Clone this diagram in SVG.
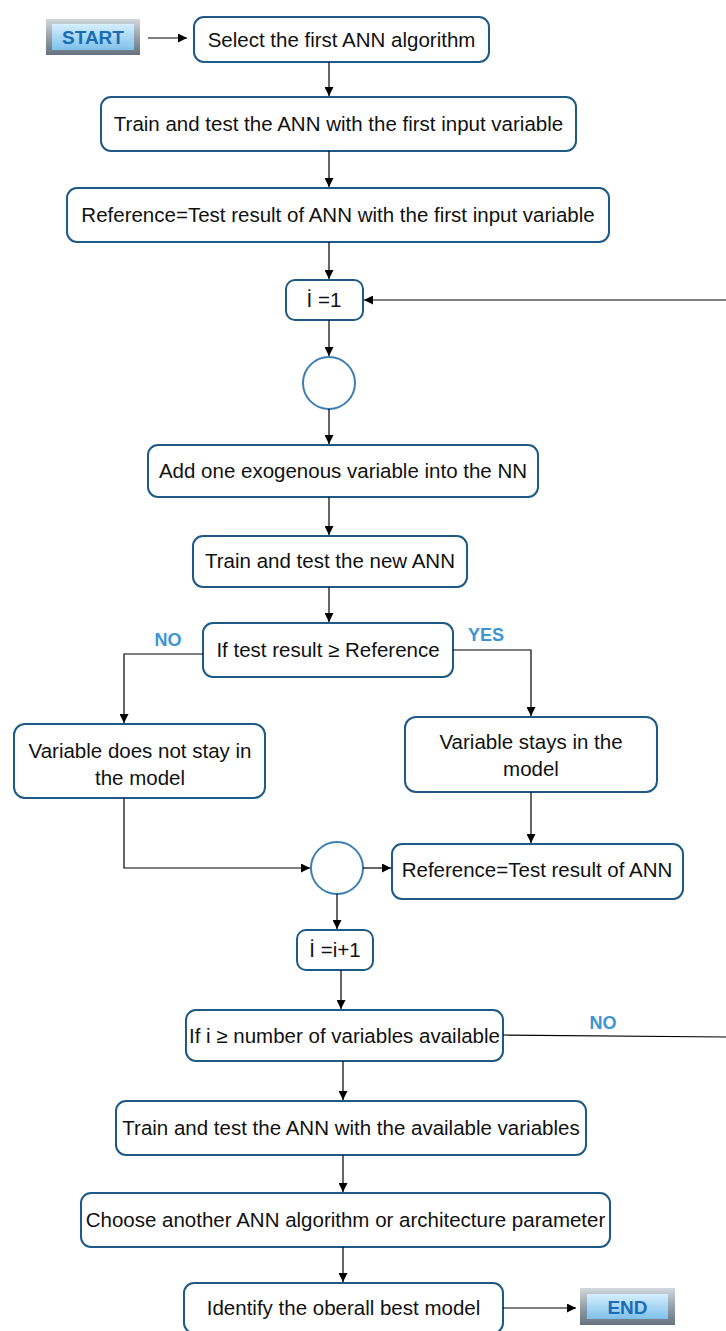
<svg xmlns="http://www.w3.org/2000/svg" width="726" height="1331" viewBox="0 0 726 1331">
<defs>
<marker id="arr" viewBox="0 0 10 10" refX="10" refY="5" markerWidth="9" markerHeight="9" markerUnits="userSpaceOnUse" orient="auto"><path d="M0,0 L10,5 L0,10 z" fill="#000"/></marker>
<linearGradient id="btnIn" x1="0" y1="0" x2="0" y2="1"><stop offset="0" stop-color="#d6efff"/><stop offset="0.5" stop-color="#a9d8f5"/><stop offset="1" stop-color="#7fc0ea"/></linearGradient>
<linearGradient id="btnOut" x1="0" y1="0" x2="0" y2="1"><stop offset="0" stop-color="#d2d8dd"/><stop offset="0.5" stop-color="#95a1ab"/><stop offset="1" stop-color="#66737f"/></linearGradient>
</defs>
<style>
.box{fill:#fff;stroke:#1d5a85;stroke-width:2}
.circ{fill:#fff;stroke:#3b7eb3;stroke-width:2}
.t{font-family:"Liberation Sans",Arial,sans-serif;font-size:20.5px;fill:#111;text-anchor:middle}
.lbl{font-family:"Liberation Sans",Arial,sans-serif;font-size:18px;font-weight:bold;fill:#3d95d4;text-anchor:middle}
.btn{font-family:"Liberation Sans",Arial,sans-serif;font-size:19px;font-weight:bold;fill:#1a6cb5;text-anchor:middle}
.c{fill:none;stroke:#000;stroke-width:1.2}
.ca{fill:none;stroke:#000;stroke-width:1.2;marker-end:url(#arr)}
</style>
<rect width="726" height="1331" fill="#fff"/>

<g id="start">
<rect x="46" y="19" width="94" height="36" fill="url(#btnOut)"/>
<rect x="52" y="24" width="82" height="26" fill="url(#btnIn)"/>
<text class="btn" x="93" y="44">START</text>
</g>
<g id="n1"><rect class="box" x="194" y="17" width="295" height="45" rx="10"/><text class="t" x="341.5" y="47">Select the first ANN algorithm</text></g>
<g id="n2"><rect class="box" x="101" y="97" width="475" height="54" rx="10"/><text class="t" x="338.5" y="131">Train and test the ANN with the first input variable</text></g>
<g id="n3"><rect class="box" x="67" y="188" width="542" height="54" rx="10"/><text class="t" x="338" y="222">Reference=Test result of ANN with the first input variable</text></g>
<g id="n4"><rect class="box" x="286" y="280" width="77" height="40" rx="9"/><text class="t" x="324" y="307">İ =1</text></g>
<g id="c1"><circle class="circ" cx="329" cy="383" r="26"/></g>
<g id="n5"><rect class="box" x="148" y="445" width="390" height="52" rx="10"/><text class="t" x="343" y="478">Add one exogenous variable into the NN</text></g>
<g id="n6"><rect class="box" x="193" y="536" width="274" height="51" rx="10"/><text class="t" x="330" y="568">Train and test the new ANN</text></g>
<g id="n7"><rect class="box" x="203" y="623" width="250" height="54" rx="10"/><text class="t" x="328" y="657">If test result ≥ Reference</text></g>
<g id="n8"><rect class="box" x="14" y="724" width="251" height="74" rx="11"/><text class="t" x="140" y="758">Variable does not stay in</text><text class="t" x="140" y="785">the model</text></g>
<g id="n9"><rect class="box" x="405" y="717" width="252" height="75" rx="11"/><text class="t" x="531" y="749">Variable stays in the</text><text class="t" x="531" y="776">model</text></g>
<g id="c2"><circle class="circ" cx="337" cy="868" r="26"/></g>
<g id="n10"><rect class="box" x="392" y="844" width="291" height="55" rx="10"/><text class="t" x="537" y="877">Reference=Test result of ANN</text></g>
<g id="n11"><rect class="box" x="297" y="930" width="76" height="40" rx="9"/><text class="t" x="335" y="957">İ =i+1</text></g>
<g id="n12"><rect class="box" x="186" y="1010" width="317" height="51" rx="10"/><text class="t" x="344.5" y="1043">If i ≥ number of variables available</text></g>
<g id="n13"><rect class="box" x="116" y="1101" width="470" height="54" rx="10"/><text class="t" x="351" y="1135">Train and test the ANN with the available variables</text></g>
<g id="n14"><rect class="box" x="81" y="1193" width="529" height="54" rx="10"/><text class="t" x="345.5" y="1227">Choose another ANN algorithm or architecture parameter</text></g>
<g id="n15"><rect class="box" x="184" y="1283" width="319" height="50" rx="10"/><text class="t" x="343.5" y="1315">Identify the oberall best model</text></g>
<g id="end">
<rect x="580" y="1288" width="95" height="37" fill="url(#btnOut)"/>
<rect x="587" y="1294" width="81" height="25" fill="url(#btnIn)"/>
<text class="btn" x="627.5" y="1314">END</text>
</g>

<g id="connectors">
<line class="ca" x1="148" y1="38" x2="187" y2="38"/>
<line class="ca" x1="329" y1="62" x2="329" y2="96"/>
<line class="ca" x1="329" y1="151" x2="329" y2="187"/>
<line class="ca" x1="329" y1="242" x2="329" y2="279"/>
<line class="ca" x1="329" y1="320" x2="329" y2="356"/>
<line class="ca" x1="329" y1="409" x2="329" y2="444"/>
<line class="ca" x1="329" y1="497" x2="329" y2="535"/>
<line class="ca" x1="329" y1="587" x2="329" y2="622"/>
<polyline class="ca" points="203,654 124,654 124,723"/>
<polyline class="ca" points="453,650 531,650 531,716"/>
<polyline class="ca" points="124,798 124,868 310,868"/>
<line class="ca" x1="531" y1="792" x2="531" y2="843"/>
<line class="ca" x1="363" y1="868" x2="391" y2="868"/>
<line class="ca" x1="337" y1="894" x2="337" y2="929"/>
<line class="ca" x1="341" y1="970" x2="341" y2="1009"/>
<line class="ca" x1="343" y1="1061" x2="343" y2="1100"/>
<line class="ca" x1="343" y1="1155" x2="343" y2="1192"/>
<line class="ca" x1="343" y1="1247" x2="343" y2="1282"/>
<line class="ca" x1="503" y1="1308" x2="576" y2="1308"/>
<line class="c" x1="503" y1="1035" x2="726" y2="1037"/>
<line class="ca" x1="726" y1="300" x2="364" y2="300"/>
<text class="lbl" x="168" y="646">NO</text>
<text class="lbl" x="486" y="641">YES</text>
<text class="lbl" x="603" y="1029">NO</text>
</g>
</svg>
